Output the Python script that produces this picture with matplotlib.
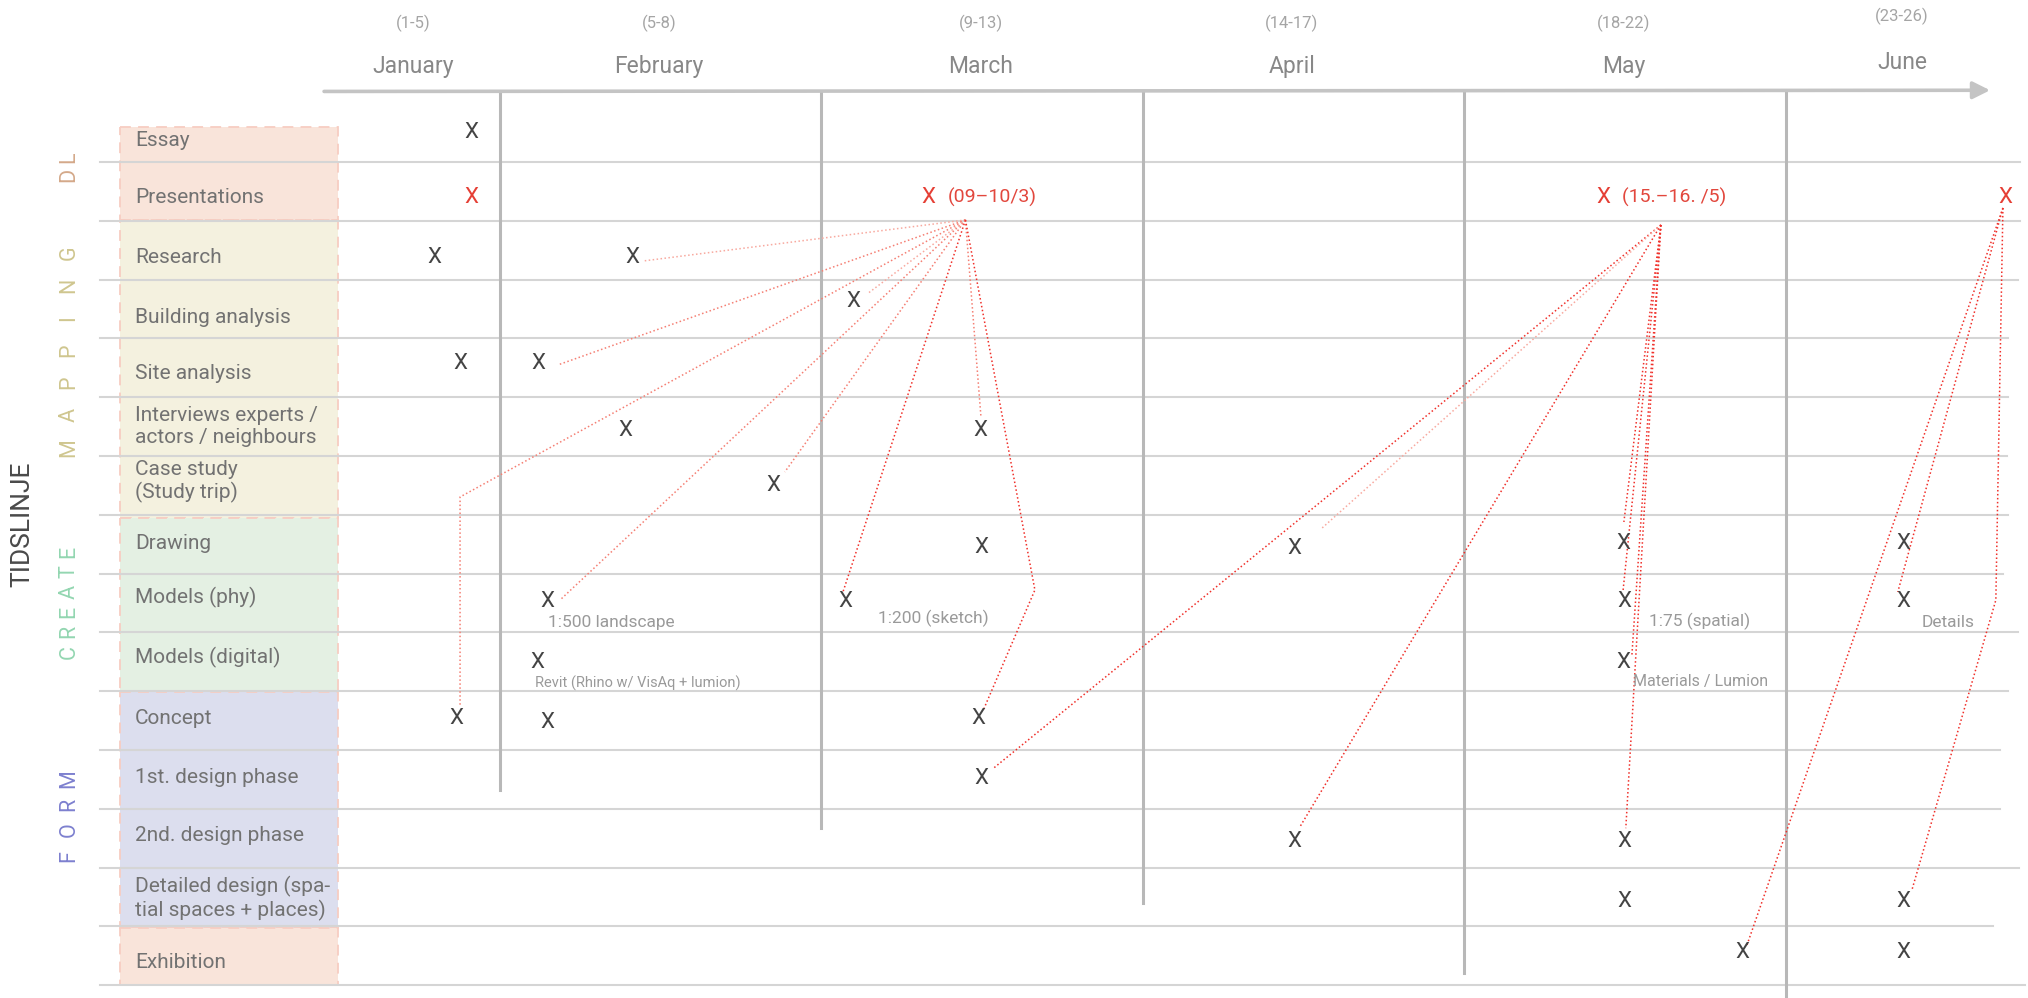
import matplotlib.pyplot as plt
import matplotlib.patches as patches

plt.rcParams['font.family'] = ['Roboto', 'DejaVu Sans']

# x in month units (1.0 = Jan/Feb boundary), y in row units (row 0 = Essay)
months = ['January', 'February', 'March', 'April', 'May', 'June']
weeks = ['(1-5)', '(5-8)', '(9-13)', '(14-17)', '(18-22)', '(23-26)']
month_x = [0.729, 1.495, 2.496, 3.463, 4.496, 5.361]
month_y = [-1.12, -1.12, -1.12, -1.12, -1.12, -1.20]
week_y = [-1.86, -1.86, -1.86, -1.86, -1.86, -1.97]

rows = ['Essay', 'Presentations', 'Research', 'Building analysis', 'Site analysis',
        'Interviews experts /\nactors / neighbours', 'Case study\n(Study trip)',
        'Drawing', 'Models (phy)', 'Models (digital)', 'Concept',
        '1st. design phase', '2nd. design phase',
        'Detailed design (spa-\ntial spaces + places)', 'Exhibition']
row_text_y = [0.13, 1.11, 2.13, 3.14, 4.10, 4.99, 5.93, 6.98, 7.90, 8.92,
              9.96, 10.96, 11.95, 13.02, 14.12]
row_lines = [r + 0.5 for r in range(15)]
row_line_end = [5.728, 5.728, 5.722, 5.691, 5.691, 5.687, 5.691, 5.675,
                5.722, 5.691, 5.666, 5.666, 5.725, 5.644, 5.743]

groups = ['DL', 'MAPPING', 'CREATE', 'FORM']
group_mid = [0.57, 3.70, 7.98, 11.64]
group_step = [0.29, 0.553, 0.34, 0.44]
group_colors = ['#d4a98a', '#cfc68f', '#93d6b1', '#7d80cf']

box_top = [-0.095, 1.486, 6.554, 9.514, 13.527]
box_bottom = [1.486, 6.554, 9.514, 13.527, 14.497]
box_colors = ['#f9e4da', '#f4f1df', '#e4f0e3', '#dcdeee', '#f9e4da']

bound_x = [1, 2, 3, 4, 5]
bound_bottom = [11.18, 11.83, 13.10, 14.29, 14.72]

# black X marks
mark_x = [0.910, 0.795, 1.411, 2.098, 0.876, 1.121, 1.389, 2.493, 1.849,
          2.496, 3.470, 4.493, 5.364, 1.149, 2.073, 4.496, 5.364, 1.118,
          4.493, 0.866, 1.149, 2.487, 2.496, 3.470, 4.496, 4.496, 5.364,
          4.866, 5.364]
mark_y = [0.00, 2.13, 2.13, 2.88, 3.92, 3.92, 5.07, 5.06, 6.01, 7.06, 7.08,
          6.98, 6.98, 7.98, 7.98, 7.98, 7.98, 9.02, 9.02, 9.96, 10.04, 9.96,
          10.98, 12.05, 12.05, 13.07, 13.07, 13.95, 13.95]

# red presentation marks
red_x = [0.910, 2.334, 4.431, 5.684]
red_y = [1.11, 1.11, 1.11, 1.11]
red_notes = ['', '(09–10/3)', '(15.–16. /5)', '']
red_note_x = [0, 2.393, 4.490, 0]

notes = ['1:500 landscape', '1:200 (sketch)', '1:75 (spatial)', 'Details',
         'Revit (Rhino w/ VisAq + lumion)', 'Materials / Lumion']
note_x = [1.149, 2.176, 4.574, 5.423, 1.109, 4.524]
note_y = [8.34, 8.27, 8.32, 8.34, 9.36, 9.34]
note_size = [12.5, 12.5, 12.5, 12.5, 10.5, 11.5]

hub_a = (2.448, 1.486)
hub_b = (4.611, 1.571)
hub_c = (5.675, 1.282)
links = [
    (hub_a, [(1.445, 2.184)], 'light'),
    (hub_a, [(1.180, 3.952)], 'mid'),
    (hub_a, [(0.876, 6.197), (0.876, 9.735)], 'mid'),
    (hub_a, [(1.187, 7.949)], 'mid'),
    (hub_a, [(1.886, 5.772)], 'mid'),
    (hub_a, [(2.142, 2.745)], 'light'),
    (hub_a, [(2.067, 7.813)], 'red'),
    (hub_a, [(2.496, 4.820)], 'mid'),
    (hub_a, [(2.664, 7.779), (2.505, 9.803)], 'red'),
    (hub_b, [(2.533, 10.82)], 'red'),
    (hub_b, [(3.554, 6.741)], 'light'),
    (hub_b, [(3.488, 11.81)], 'red'),
    (hub_b, [(4.496, 6.622)], 'red'),
    (hub_b, [(4.493, 7.813)], 'red'),
    (hub_b, [(4.521, 8.884)], 'red'),
    (hub_b, [(4.502, 11.83)], 'red'),
    (hub_c, [(4.879, 13.816)], 'red'),
    (hub_c, [(5.348, 7.813)], 'red'),
    (hub_c, [(5.653, 7.949), (5.392, 12.88)], 'red'),
]
link_colors = {'light': '#f8a99f', 'mid': '#f57f73', 'red': '#f0302a'}

fig = plt.figure(figsize=(20.28, 9.98), dpi=100)
ax = fig.add_axes([0, 0, 1, 1])
ax.set_xlim(-0.555, 5.753)
ax.set_ylim(14.718, -2.255)
ax.axis('off')

# coloured group boxes
for top, bot, col in zip(box_top, box_bottom, box_colors):
    ax.add_patch(patches.Rectangle((-0.182, top), 0.678, bot - top, facecolor=col,
                                   edgecolor='#f7cdc2', lw=1.3, ls=(0, (6, 4)), zorder=1))

# row grid lines
for y, xe in zip(row_lines, row_line_end):
    ax.plot([-0.244, xe], [y, y], color='#d5d5d5', lw=1.5, zorder=2)

# month boundaries
for x, yb in zip(bound_x, bound_bottom):
    ax.plot([x, x], [-0.67, yb], color='#b8b8b8', lw=2.2, zorder=2)

# time arrow
ax.annotate('', xy=(5.635, -0.72), xytext=(0.453, -0.70),
            arrowprops=dict(arrowstyle='-|>', color='#c4c4c4', lw=2.6,
                            mutation_scale=26, shrinkA=0, shrinkB=0), zorder=3)

for m, w, x, ym, yw in zip(months, weeks, month_x, month_y, week_y):
    ax.text(x, ym, m, ha='center', va='center', fontsize=16.5, color='#888888')
    ax.text(x, yw, w, ha='center', va='center', fontsize=12, color='#a5a5a5')

for label, y in zip(rows, row_text_y):
    ax.text(-0.135, y, label, ha='left', va='center', fontsize=15,
            color='#727272', linespacing=1.2, zorder=4)

for g, mid, step, col in zip(groups, group_mid, group_step, group_colors):
    n = len(g)
    for i, ch in enumerate(g):
        ax.text(-0.341, mid + (n - 1) / 2 * step - i * step, ch, rotation=90,
                ha='center', va='center', fontsize=15.5, color=col)

ax.text(-0.484, 6.66, 'TIDSLINJE', rotation=90, ha='center', va='center',
        fontsize=19, color='#4a4a4a')

# dotted connectors
for hub, pts, shade in links:
    xs = [hub[0]] + [p[0] for p in pts]
    ys = [hub[1]] + [p[1] for p in pts]
    ax.plot(xs, ys, color=link_colors[shade], lw=1.1, ls=(0, (1, 1.6)), zorder=5)

for x, y in zip(mark_x, mark_y):
    ax.text(x, y, 'X', ha='center', va='center', fontsize=16,
            color='#444444', zorder=6)

for x, y, note, nx in zip(red_x, red_y, red_notes, red_note_x):
    ax.text(x, y, 'X', ha='center', va='center', fontsize=16,
            color='#e53f35', zorder=6)
    if note:
        ax.text(nx, y, note, ha='left', va='center', fontsize=14,
                color='#e2473d', zorder=6)

for note, x, y, s in zip(notes, note_x, note_y, note_size):
    ax.text(x, y, note, ha='left', va='center', fontsize=s, color='#9a9a9a', zorder=6)

fig.savefig('out.png', dpi=100)
